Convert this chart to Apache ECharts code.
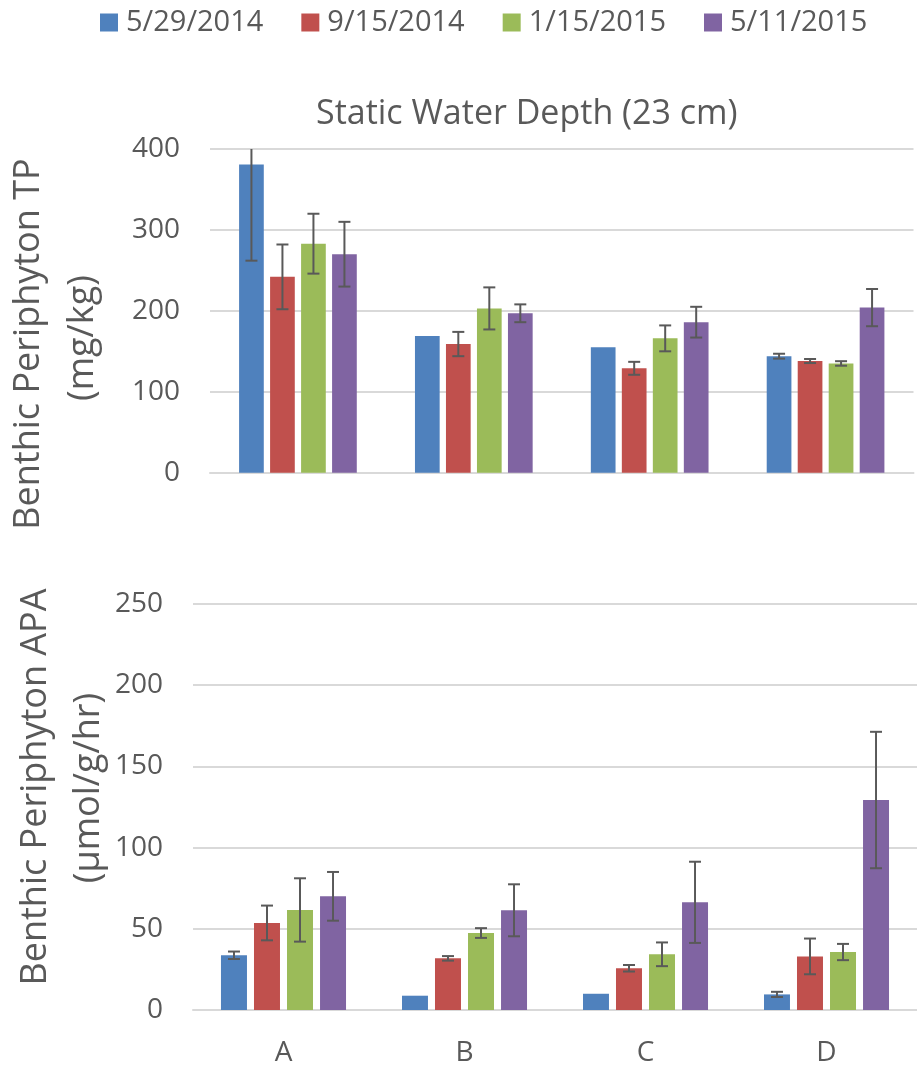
<!DOCTYPE html>
<html>
<head>
<meta charset="utf-8">
<script src="https://cdn.jsdelivr.net/npm/echarts@6/dist/echarts.min.js"></script>
<style>
  html, body { margin: 0; padding: 0; background: #fff; }
  #chart { width: 917px; height: 1067px; }
</style>
</head>
<body>
<div id="chart"></div>
<script>
var categories = ["A", "B", "C", "D"];
var dates = ["5/29/2014", "9/15/2014", "1/15/2015", "5/11/2015"];
var colors = ["#4F81BD", "#C0504D", "#9BBB59", "#8064A2"];

// Benthic Periphyton TP (mg/kg), one array per sampling date
var tpValues = [
  [381, 169, 155, 144],
  [242, 159, 129, 138],
  [283, 203, 166, 135],
  [270, 197, 186, 204]
];
var tpErrors = [
  [119, 0, 0, 3],
  [40, 15, 8, 2.5],
  [37, 26, 16, 2.8],
  [40, 11, 19, 23]
];

// Benthic Periphyton APA (umol/g/hr)
var apaValues = [
  [33.7, 8.8, 10, 9.6],
  [53.6, 31.8, 25.7, 33],
  [61.6, 47.4, 34.3, 35.7],
  [70, 61.4, 66.3, 129.3]
];
var apaErrors = [
  [2.3, 0, 0, 1.6],
  [10.7, 1.4, 2, 11],
  [19.5, 3, 7.3, 5],
  [15, 16, 25, 42]
];

var tpTicks = { min: 0, max: 400, interval: 100 };
var apaTicks = { min: 0, max: 250, interval: 50 };

var textColor = "#595959";
var gridColor = "#d9d9d9";
var font = "Open Sans";

var myChart = echarts.init(document.getElementById("chart"));

// bar geometry per panel
var panels = [
  { barWidth: 24.7, barGap: "25.5%" },
  { barWidth: 26, barGap: "27%" }
];

function errorBar(serieIdx, panel) {
  return function (params, api) {
    var err = api.value(2);
    if (!err) return;
    var cat = api.value(0);
    var val = api.value(1);
    var layout = api.barLayout({
      count: 4,
      barWidth: panel.barWidth,
      barGap: panel.barGap
    });
    var hi = api.coord([cat, val + err]);
    var lo = api.coord([cat, val - err]);
    var x = hi[0] + layout[serieIdx].offsetCenter;
    var cs = params.coordSys;
    var yTop = Math.max(hi[1], cs.y);
    var st = { stroke: "#595959", lineWidth: 2 };
    var half = 6;
    var kids = [
      { type: "line", shape: { x1: x, y1: yTop, x2: x, y2: lo[1] }, style: st }
    ];
    // no top cap when the bar is cut off by the axis max
    if (hi[1] >= cs.y) {
      kids.push({ type: "line", shape: { x1: x - half, y1: hi[1], x2: x + half, y2: hi[1] }, style: st });
    }
    kids.push({ type: "line", shape: { x1: x - half, y1: lo[1], x2: x + half, y2: lo[1] }, style: st });
    return { type: "group", children: kids };
  };
}

var series = [];
[tpValues, apaValues].forEach(function (vals, p) {
  vals.forEach(function (v, i) {
    series.push({
      name: dates[i],
      type: "bar",
      xAxisIndex: p,
      yAxisIndex: p,
      barWidth: panels[p].barWidth,
      barGap: panels[p].barGap,
      itemStyle: { color: colors[i] },
      data: v
    });
  });
});
[tpErrors, apaErrors].forEach(function (errs, p) {
  var vals = p === 0 ? tpValues : apaValues;
  errs.forEach(function (e, i) {
    series.push({
      name: dates[i],
      type: "custom",
      xAxisIndex: p,
      yAxisIndex: p,
      z: 5,
      renderItem: errorBar(i, panels[p]),
      encode: { x: 0, y: 1 },
      data: e.map(function (err, c) { return [c, vals[i][c], err]; })
    });
  });
});

function yAxis(ticks) {
  return {
    type: "value",
    min: ticks.min,
    max: ticks.max,
    interval: ticks.interval,
    axisLine: { show: false },
    axisTick: { show: false },
    axisLabel: { color: textColor, fontSize: 28, fontFamily: font, margin: 30 },
    splitLine: { lineStyle: { color: gridColor, width: 2 } }
  };
}

var option = {
  animation: false,
  textStyle: { fontFamily: font },
  title: {
    text: "Static Water Depth (23 cm)",
    left: 316,
    top: 97,
    padding: 0,
    textStyle: { color: textColor, fontSize: 34, fontWeight: "normal", fontFamily: font }
  },
  legend: {
    data: dates,
    left: 95,
    top: 3,
    itemWidth: 18,
    itemHeight: 18,
    itemGap: 38,
    icon: "rect",
    textStyle: { color: textColor, fontSize: 29, fontFamily: font, padding: [0, 0, 0, 3] }
  },
  grid: [
    { left: 210, top: 149, width: 703.5, height: 323.7 },
    { left: 193, top: 604, width: 732, height: 406 }
  ],
  xAxis: [
    {
      type: "category",
      gridIndex: 0,
      data: categories,
      axisLine: { lineStyle: { color: gridColor, width: 2 } },
      axisTick: { show: false },
      axisLabel: { show: false }
    },
    {
      type: "category",
      gridIndex: 1,
      data: categories,
      axisLine: { lineStyle: { color: gridColor, width: 2 } },
      axisTick: { show: false },
      axisLabel: { color: textColor, fontSize: 28, fontFamily: font, margin: 29 }
    }
  ],
  yAxis: [
    Object.assign({ gridIndex: 0 }, yAxis(tpTicks)),
    Object.assign({ gridIndex: 1 }, yAxis(apaTicks))
  ],
  graphic: [
    {
      type: "text", x: 29, y: 344, rotation: Math.PI / 2,
      style: { text: "Benthic Periphyton TP", fill: textColor, fontSize: 36, fontFamily: font, textAlign: "center", textVerticalAlign: "middle" }
    },
    {
      type: "text", x: 83, y: 338, rotation: Math.PI / 2,
      style: { text: "(mg/kg)", fill: textColor, fontSize: 36, fontFamily: font, textAlign: "center", textVerticalAlign: "middle" }
    },
    {
      type: "text", x: 36, y: 787, rotation: Math.PI / 2,
      style: { text: "Benthic Periphyton APA", fill: textColor, fontSize: 36, fontFamily: font, textAlign: "center", textVerticalAlign: "middle" }
    },
    {
      type: "text", x: 89, y: 788, rotation: Math.PI / 2,
      style: { text: "(\u00b5mol/g/hr)", fill: textColor, fontSize: 36, fontFamily: font, textAlign: "center", textVerticalAlign: "middle" }
    }
  ],
  series: series
};

myChart.setOption(option);
window.addEventListener("resize", function () {
  myChart.resize();
});
</script>
</body>
</html>
